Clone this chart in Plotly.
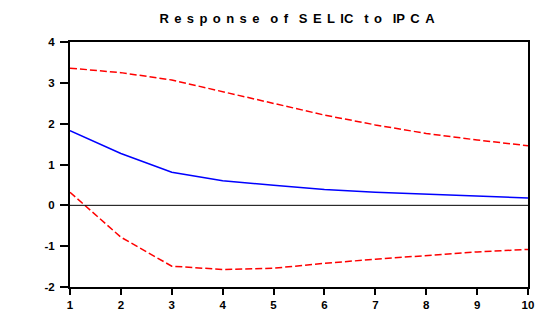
import plotly.graph_objects as go

periods = [1, 2, 3, 4, 5, 6, 7, 8, 9, 10]
response = [1.83, 1.27, 0.81, 0.60, 0.49, 0.39, 0.32, 0.27, 0.22, 0.18]
upper = [3.36, 3.25, 3.07, 2.78, 2.50, 2.21, 1.97, 1.76, 1.60, 1.46]
lower = [0.32, -0.78, -1.49, -1.57, -1.54, -1.42, -1.32, -1.23, -1.14, -1.08]
y_ticks = [-2, -1, 0, 1, 2, 3, 4]

g = "\u2005\u2006"      # gap between letters
w = g + g               # gap between words
words = [["R", "e", "s", "p", "o", "n", "s", "e"], ["o", "f"],
         ["S", "E", "L", "IC"], ["t", "o"], ["IP", "C", "A"]]
title = w.join(g.join(word) for word in words)

fig = go.Figure()
fig.add_trace(go.Scatter(x=periods, y=upper, mode="lines",
                         line=dict(color="#ff0000", width=1.5, dash="7px,3px")))
fig.add_trace(go.Scatter(x=periods, y=lower, mode="lines",
                         line=dict(color="#ff0000", width=1.5, dash="7px,3px")))
fig.add_trace(go.Scatter(x=periods, y=response, mode="lines",
                         line=dict(color="#0000ff", width=1.5)))

fig.add_shape(type="line", xref="x", yref="y", x0=1, x1=10, y0=0, y1=0,
              line=dict(color="black", width=1))

fig.update_layout(
    width=540, height=313,
    margin=dict(l=70, r=12, t=42, b=26, autoexpand=False),
    paper_bgcolor="white", plot_bgcolor="white",
    showlegend=False,
    title=dict(text="<b>" + title + "</b>", x=0.55, xanchor="center",
               y=0.942, yanchor="middle", automargin=False,
               font=dict(family="Liberation Sans, Arial", size=13, color="black")),
    font=dict(family="Liberation Sans, Arial", size=11.5, color="black"),
)
fig.update_xaxes(range=[1, 10], tickvals=periods,
                 ticktext=["<b>%d</b>" % p for p in periods],
                 showgrid=False, zeroline=False, automargin=False,
                 showline=True, linecolor="black", linewidth=2, mirror=True,
                 ticks="outside", ticklen=6, tickwidth=1.5, tickcolor="black")
fig.update_yaxes(range=[-2, 4], tickvals=y_ticks,
                 ticktext=["<b>%d</b>" % v for v in y_ticks],
                 showgrid=False, zeroline=False, automargin=False,
                 ticklabelstandoff=3,
                 showline=True, linecolor="black", linewidth=2, mirror=True,
                 ticks="outside", ticklen=8, tickwidth=1.5, tickcolor="black")

# remove the default page margin so the 540x313 figure fills the window exactly
fig.write_html("out.html",
               config={"displayModeBar": False},
               post_script="document.body.style.margin='0';"
                           "document.body.style.overflow='hidden';")
